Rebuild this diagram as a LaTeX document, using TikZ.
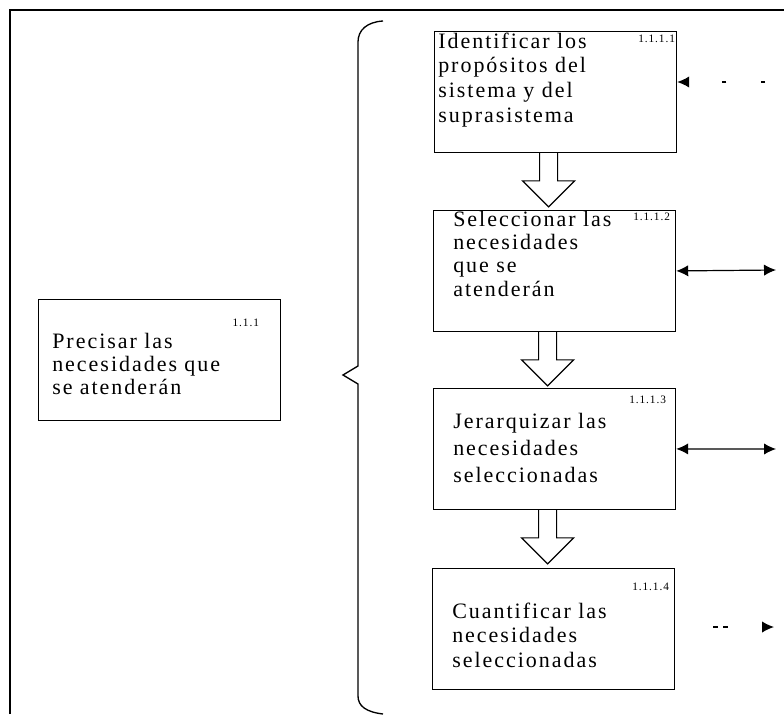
\documentclass[tikz,border=0pt]{standalone}
\usepackage{fontspec}
\setmainfont{Liberation Serif}
\newfontfamily\boxfamily[LetterSpace=9,WordSpace=1.6]{Liberation Serif}
\newfontfamily\numfamily[LetterSpace=8]{Liberation Serif}
\usetikzlibrary{calc,arrows.meta}
\newcommand\boxfont[1]{\boxfamily\fontsize{16.5pt}{#1}\selectfont}
\newcommand\numfont{\numfamily\fontsize{8.5pt}{9pt}\selectfont}
\newcommand\hollowarrow[1]{\draw[hollow] ($(#1.south)+(-16,0)$) -- ++(0,28) -- ++(-17,0) -- ++(26,26) -- ++(26,-26) -- ++(-17,0) -- ++(0,-28);}
\tikzset{
	procbox/.style={draw, line width=0.9pt, anchor=north west, inner sep=0pt, minimum width=181.5pt, minimum height=90.5pt},
	boxtext/.style={anchor=base west, align=left, inner sep=0pt, text width=175pt, font={\boxfont{#1}}},
	boxnum/.style={anchor=base east, inner sep=0pt, font=\numfont},
	hollow/.style={line width=0.9pt},
	frame/.style={line width=1.3pt},
	brace/.style={line width=1pt},
	link/.style={line width=0.9pt, {Latex[length=9pt,width=8.5pt]}-{Latex[length=9pt,width=8.5pt]}},
	dashlink/.style={line width=0.9pt, dash pattern=#1, -{Latex[length=9pt,width=8.5pt]}},
}

\begin{document}
\begin{tikzpicture}[x=0.75pt, y=-0.75pt]
			%%%%% START %%%%%
			\useasboundingbox (0,0) rectangle (784,714);
			
			\draw[frame] (10,714) -- (10,10) -- (784,10);
			
			\node[procbox] (pre) at (38,299) {};
			\node[boxnum] (prenum) at ($(pre.north east)+(-22,27)$) {1.1.1};
			\node[boxtext=17.25pt] (pretext) at ($(pre.north west)+(14,49)$) {Precisar las\\necesidades que\\se atenderán};
			
			\draw[brace] (383,21) .. controls (367,22) and (358,30) .. (358,42) -- (358,366) -- (343,375) -- (358,384) -- (358,696) .. controls (358,706) and (366,712) .. (383,714);
			
			\node[procbox] (idn) at (434,31) {};
			\node[boxnum] (idnnum) at ($(idn.north east)+(-2,11)$) {1.1.1.1};
			\node[boxtext=18.5pt] (idntext) at ($(idn.north west)+(4,17)$) {Identificar los\\propósitos del\\sistema y del\\suprasistema};
			
			\node[procbox] (sel) at (433,210) {};
			\node[boxnum] (selnum) at ($(sel.north east)+(-6,10)$) {1.1.1.2};
			\node[boxtext=17.5pt] (seltext) at ($(sel.north west)+(20,16)$) {Seleccionar las\\necesidades\\que se\\atenderán};
			
			\node[procbox] (jer) at (433,388) {};
			\node[boxnum] (jernum) at ($(jer.north east)+(-10,15)$) {1.1.1.3};
			\node[boxtext=20.25pt] (jertext) at ($(jer.north west)+(20,40)$) {Jerarquizar las\\necesidades\\seleccionadas};
			
			\node[procbox] (cua) at (432,568) {};
			\node[boxnum] (cuanum) at ($(cua.north east)+(-6,22)$) {1.1.1.4};
			\node[boxtext=18.5pt] (cuatext) at ($(cua.north west)+(20,50)$) {Cuantificar las\\necesidades\\seleccionadas};
			
			\hollowarrow{idn}
			\hollowarrow{sel}
			\hollowarrow{jer}
			
			\coordinate (inidn) at (765,82);
			\draw[dashlink={on 3pt off 26pt}] (inidn) -- (inidn -| idn.east);
			
			\coordinate (outsel) at (776,270);
			\draw[link] (sel.east) -- (outsel);
			
			\coordinate (outjer) at (776,449);
			\draw[link] (jer.east) -- (outjer);
			
			\coordinate (cuafrom) at (713,627);
			\coordinate (outcua) at (774,627);
			\draw[dashlink={on 3.5pt off 4pt on 3.5pt off 60pt}] (cuafrom) -- (outcua);
			
			%%%%% END %%%%%
		\end{tikzpicture}
\end{document}
